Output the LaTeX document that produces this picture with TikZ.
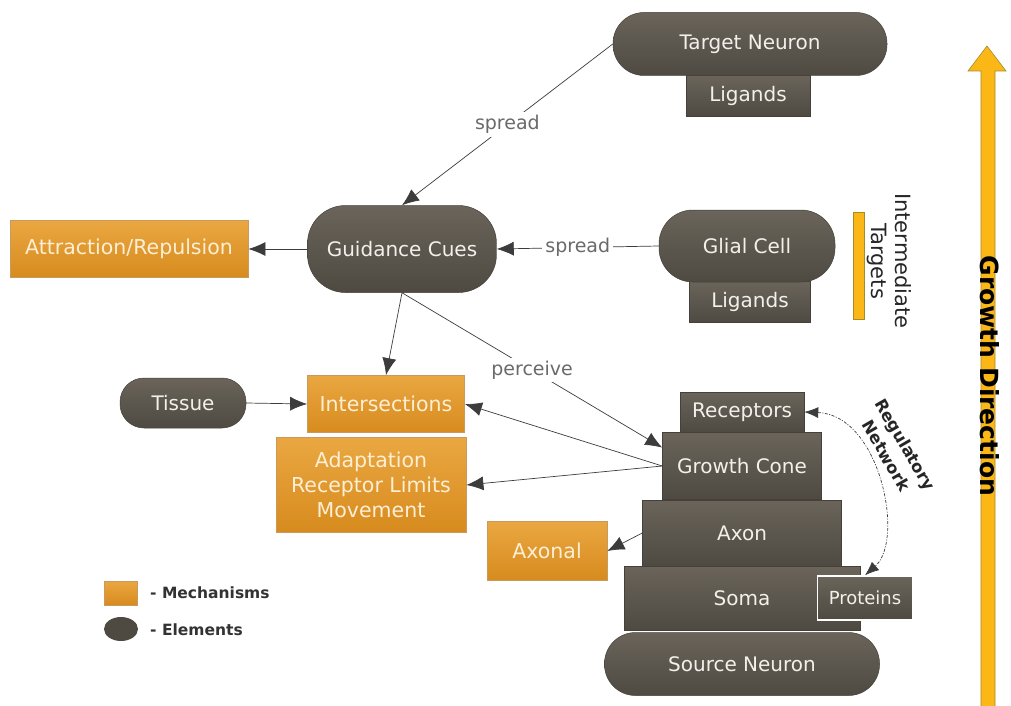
\documentclass[tikz,border=0pt]{standalone}
\usepackage{fontspec}
\setmainfont{DejaVu Sans}
\usetikzlibrary{arrows.meta,shapes.geometric}
\definecolor{elemtop}{HTML}{6A645A}
\definecolor{elembot}{HTML}{4E4A42}
\definecolor{elemline}{HTML}{45413A}
\definecolor{mechtop}{HTML}{EAA741}
\definecolor{mechbot}{HTML}{D78B1E}
\definecolor{mechborder}{HTML}{C99A5E}
\definecolor{elemtext}{HTML}{F3F0EA}
\definecolor{mechtext}{HTML}{FCEFD6}
\definecolor{labeltext}{HTML}{6A6A6A}
\definecolor{linec}{HTML}{3C3C3C}
\definecolor{gold}{HTML}{FBB716}
\definecolor{goldborder}{HTML}{A88A2A}
\begin{document}
\begin{tikzpicture}[x=1pt,y=-1pt,
  elembox/.style={draw=elemline, line width=0.5pt, top color=elemtop, bottom color=elembot,
    text=elemtext, font=\fontsize{20}{25}\selectfont, inner sep=0pt, align=center},
  pill/.style={elembox, rounded corners=#1},
  mechbox/.style={draw=mechborder, line width=0.8pt, top color=mechtop, bottom color=mechbot,
    text=mechtext, font=\fontsize{20.5}{25}\selectfont, inner sep=0pt, align=center},
  conn/.style={draw=linec, line width=0.7pt, -{Latex[length=17pt,width=14pt]}},
  lbl/.style={fill=white, text=labeltext, font=\fontsize{19}{22}\selectfont, inner sep=3pt},
  legtext/.style={anchor=west, text=black!80, font=\bfseries\fontsize{15.5}{18}\selectfont, inner sep=0pt},
]
\fill[white] (0,0) rectangle (1011,706);
\useasboundingbox (0,0) rectangle (1011,706);

% growth direction arrow
\filldraw[fill=gold, draw=goldborder, line width=0.6pt]
  (981,707) -- (981,71) -- (968,71) -- (987,46) -- (1006,71) -- (995,71) -- (995,707);
\node[rotate=-90, font=\bfseries\fontsize{25}{29}\selectfont, text=black] (gdir) at (990,376) {Growth Direction};

% intermediate targets
\filldraw[fill=gold, draw=goldborder, line width=0.6pt] (853,212) rectangle (864,319);
\node[rotate=-90, align=center, font=\fontsize{21}{24}\selectfont, text=black!85] (inter-t) at (889,261) {Intermediate\\Targets};

% elements
\node[elembox, minimum width=124, minimum height=41] (tlig) at (748,96) {Ligands};
\node[pill=31pt, minimum width=274, minimum height=63] (target) at (750,44) {Target Neuron};
\node[elembox, minimum width=121, minimum height=41] (glig) at (750,302) {Ligands};
\node[pill=34pt, minimum width=176, minimum height=72] (glial) at (747,246) {Glial Cell};
\node[pill=38pt, minimum width=189, minimum height=87] (guid) at (402,249) {Guidance Cues};
\node[pill=24pt, minimum width=126, minimum height=50] (tissue) at (183,403) {Tissue};

\node[elembox, minimum width=124, minimum height=40] (rec) at (742,412) {Receptors};
\node[elembox, minimum width=159, minimum height=67] (gc) at (742,466) {Growth Cone};
\node[elembox, minimum width=199, minimum height=66] (axon) at (742,533) {Axon};
\node[elembox, minimum width=236, minimum height=64] (soma) at (742,598) {Soma};
\node[elembox, draw=white, line width=1.5pt, minimum width=95, minimum height=44,
      font=\fontsize{18}{22}\selectfont] (prot) at (865,598) {Proteins};
\node[pill=31pt, minimum width=275, minimum height=63] (source) at (742,664) {Source Neuron};

% mechanisms
\node[mechbox, minimum width=238, minimum height=57] (attr) at (129,249) {Attraction/Repulsion};
\node[mechbox, minimum width=157, minimum height=57] (inter) at (386,404) {Intersections};
\node[mechbox, minimum width=190, minimum height=95] (adapt) at (371,485) {Adaptation\\Receptor Limits\\Movement};
\node[mechbox, minimum width=120, minimum height=59] (axonal) at (547,551) {Axonal};

% connectors
\draw[conn] (target.west) -- node[lbl] {spread} (guid.north);
\draw[conn] (glial.west) -- node[lbl] {spread} (guid.east);
\draw[conn] (guid.west) -- (attr.east);
\draw[conn] (guid.south) -- (inter.north);
\draw[conn] (guid.south) -- node[lbl] {perceive} (gc.167);
\draw[conn] (tissue.east) -- (inter.west);
\draw[conn] (gc.west) -- (inter.east);
\draw[conn] (gc.west) -- (adapt.east);
\draw[conn] (axon.west) -- (axonal.east);
\draw[linec, line width=0.7pt, dash pattern=on 3pt off 1.5pt on 1pt off 1.5pt,
      {Latex[length=14pt,width=11pt]}-{Latex[length=14pt,width=11pt]}]
  (rec.east) .. controls (880,415) and (905,540) .. (prot.north);
\node[rotate=-60, align=center, text=black!85, font=\bfseries\fontsize{16.5}{22}\selectfont] (reg) at (896,450) {Regulatory\\Network};

% legend
\node[draw=mechborder, line width=0.6pt, top color=mechtop, bottom color=mechbot,
      minimum width=33, minimum height=24, inner sep=0pt] (legm) at (120.5,593) {};
\node[legtext] (legmt) at (150,593) {- Mechanisms};
\node[ellipse, fill=elembot, minimum width=34, minimum height=24, inner sep=0pt] (lege) at (121,629) {};
\node[legtext] (legett) at (150,630) {- Elements};
\end{tikzpicture}
\end{document}
